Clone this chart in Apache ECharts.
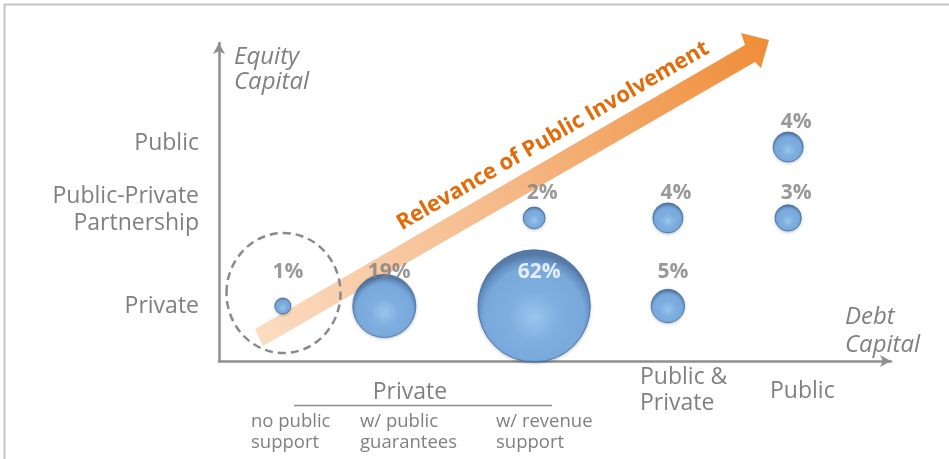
<!DOCTYPE html>
<html>
<head>
<meta charset="utf-8">
<script src="https://cdn.jsdelivr.net/npm/echarts@6/dist/echarts.min.js"></script>
<style>
html,body{margin:0;padding:0;background:#fff;}
#c{width:949px;height:459px;}
</style>
</head>
<body>
<div id="c"></div>
<script>
// ---- data ----
const equityLevels = ['Private', 'Public-Private\nPartnership', 'Public'];
const debtLevels = ['no public\nsupport', 'w/ public\nguarantees', 'w/ revenue\nsupport', 'Public &\nPrivate', 'Public'];
const debtGroupLabel = 'Private';
const debtX = [9.5, 24.6, 46.9, 66.8, 84.7];   // position of each debt column on the x value axis
const equityY = [17.3, 45.0, 67.3];            // position of each equity row on the y value axis
// [debt index, equity index, share %]
const shares = [
  [0, 0, 1], [1, 0, 19], [2, 0, 62], [3, 0, 5],
  [2, 1, 2], [3, 1, 4], [4, 1, 3],
  [4, 2, 4]
];
const arrowText = 'Relevance of Public Involvement';
const xAxisName = 'Debt\nCapital';
const yAxisName = 'Equity\nCapital';

// ---- chart ----
const FONT = 'Open Sans';
const GRAY = '#808080';
const bubbleFill = {
  type: 'radial', x: 0.5, y: 0.6, r: 0.55,
  colorStops: [
    {offset: 0, color: '#8cc4f5'},
    {offset: 0.4, color: '#6ba7e4'},
    {offset: 0.8, color: '#64a0de'},
    {offset: 0.91, color: '#4d85c5'},
    {offset: 1, color: '#3a689f'}
  ]
};

const bubbleData = shares.map(function (s) {
  const row = s[1];
  return {
    value: [debtX[s[0]], equityY[row], s[2]],
    label: {
      offset: row === 0 ? [5, -34] : [8, -25],
      color: s[2] > 30 ? '#ffffff' : '#7f7f7f'
    }
  };
});

function txt(x, y, text, opts) {
  return {
    type: 'text', x: x, y: y, z: 10,
    style: Object.assign({
      text: text, fill: GRAY, font: '23px "' + FONT + '"',
      textVerticalAlign: 'middle', textAlign: 'left', lineHeight: 27
    }, opts || {})
  };
}

const graphics = [
  // frame
  {type: 'rect', shape: {x: 4.5, y: 4.5, width: 980, height: 480},
   style: {fill: 'none', stroke: '#c4c4c4', lineWidth: 2}, z: 0},
  // relevance arrow
  {type: 'polygon', z: 1,
   shape: {points: [[255, 329], [745, 45], [741, 33], [769, 40], [761, 68], [755, 62], [263, 346]]},
   style: {fill: {type: 'linear', x: 255, y: 338, x2: 769, y2: 45, global: true,
     colorStops: [{offset: 0, color: '#fbdcc2'}, {offset: 0.5, color: '#f5b886'}, {offset: 1, color: '#ef8d38'}]}}},
  {type: 'text', z: 11, x: 553, y: 136, rotation: Math.PI / 6,
   style: {text: arrowText, fill: '#e26b0a', font: 'bold 22px "' + FONT + '"',
     textAlign: 'center', textVerticalAlign: 'middle'}},
  // dashed circle around the unsupported private segment
  {type: 'ellipse', z: 2, shape: {cx: 283.5, cy: 293, rx: 57, ry: 60},
   style: {fill: 'none', stroke: '#8a8a8a', lineWidth: 2.5, lineDash: [8, 5]}},
  // y category labels
  txt(199, 143, equityLevels[2], {textAlign: 'right'}),
  txt(199, 209.5, equityLevels[1], {textAlign: 'right'}),
  txt(199, 306, equityLevels[0], {textAlign: 'right'}),
  // axis names
  txt(234, 69.5, yAxisName, {font: 'italic 24px "' + FONT + '"', lineHeight: 25}),
  txt(845, 331.5, xAxisName, {font: 'italic 24px "' + FONT + '"', lineHeight: 28}),
  // x category labels
  txt(410, 392, debtGroupLabel, {textAlign: 'center'}),
  {type: 'line', z: 10, shape: {x1: 294, y1: 405.5, x2: 552, y2: 405.5},
   style: {stroke: '#8c8c8c', lineWidth: 1.5}},
  txt(251, 432, debtLevels[0], {font: '18.5px "' + FONT + '"', lineHeight: 21}),
  txt(360, 432, debtLevels[1], {font: '18.5px "' + FONT + '"', lineHeight: 21}),
  txt(496, 432, debtLevels[2], {font: '18.5px "' + FONT + '"', lineHeight: 21}),
  txt(640, 390.5, debtLevels[3], {lineHeight: 26}),
  txt(770, 391, debtLevels[4])
];

const chart = echarts.init(document.getElementById('c'));
chart.setOption({
  backgroundColor: '#ffffff',
  animation: false,
  grid: {left: 219, right: 58, top: 43, bottom: 98},
  xAxis: {
    type: 'value', min: 0, max: 100,
    axisLine: {show: true, symbol: ['none', 'arrow'], symbolSize: [9, 11],
      lineStyle: {color: '#8f8f8f', width: 2.5}},
    axisTick: {show: false}, axisLabel: {show: false}, splitLine: {show: false}
  },
  yAxis: {
    type: 'value', min: 0, max: 100,
    axisLine: {show: true, symbol: ['none', 'arrow'], symbolSize: [9, 11],
      lineStyle: {color: '#8f8f8f', width: 2.5}},
    axisTick: {show: false}, axisLabel: {show: false}, splitLine: {show: false}
  },
  graphic: graphics,
  series: [{
    type: 'scatter',
    z: 5,
    data: bubbleData,
    symbolSize: function (v) { return 2 + Math.sqrt(v[2]) * 14; },
    itemStyle: {
      color: bubbleFill, borderColor: '#3f6ea6', borderWidth: 1,
      shadowColor: 'rgba(0,0,0,0.25)', shadowBlur: 3, shadowOffsetY: 1
    },
    label: {
      show: true, position: 'inside',
      formatter: function (p) { return p.value[2] + '%'; },
      fontFamily: FONT, fontWeight: 'bold', fontSize: 21
    }
  }]
});
</script>
</body>
</html>
